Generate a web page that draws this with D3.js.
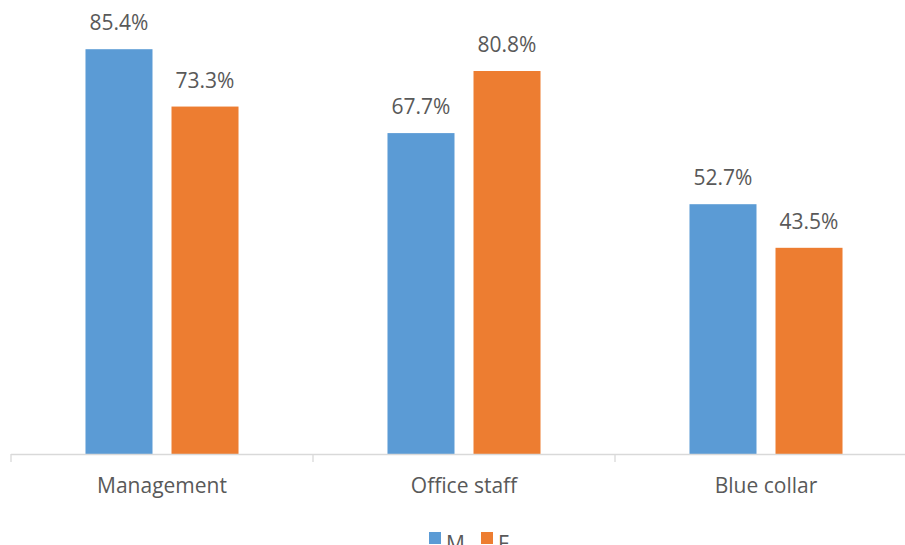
<!DOCTYPE html>
<html>
<head>
<meta charset="utf-8">
<script src="https://cdn.jsdelivr.net/npm/d3@7"></script>
<style>
  html, body { margin: 0; padding: 0; background: #fff; }
  svg { display: block; font-family: "Open Sans", "Noto Sans", sans-serif; }
</style>
</head>
<body>
<svg id="chart" width="905" height="545"></svg>
<script>
// Share by job category, split by sex
const categories = ["Management", "Office staff", "Blue collar"];
const seriesNames = ["M", "F"];
const valuesM = [85.4, 67.7, 52.7];
const valuesF = [73.3, 80.8, 43.5];
const seriesColors = ["#5B9BD5", "#ED7D31"];

const rows = categories.map((c, i) => ({ category: c, M: valuesM[i], F: valuesF[i] }));

const svg = d3.select("#chart");
const baseY = 454;
const fontSize = 21;

const x = d3.scaleBand().domain(categories).range([11, 917]).padding(0);
const xInner = d3.scaleBand().domain(seriesNames).range([0, x.bandwidth()])
  .paddingInner(0.221).paddingOuter(0.866);
const y = d3.scaleLinear().domain([0, 100]).range([baseY, -20]);
const color = d3.scaleOrdinal().domain(seriesNames).range(seriesColors);

// Category axis
const axis = d3.axisBottom(x).tickSize(0).tickPadding(0);
const gAxis = svg.append("g").attr("transform", `translate(0,${baseY})`).call(axis);
gAxis.select(".domain").remove();
gAxis.selectAll(".tick text")
  .attr("y", 39).attr("dy", null)
  .attr("fill", "#595959").attr("font-size", fontSize)
  .attr("font-family", "'Open Sans', sans-serif");

// Bars
const groups = svg.append("g").selectAll("g").data(rows).join("g")
  .attr("transform", d => `translate(${x(d.category)},0)`);

groups.selectAll("rect")
  .data(d => seriesNames.map(k => ({ key: k, value: d[k] })))
  .join("rect")
  .attr("x", d => xInner(d.key))
  .attr("width", xInner.bandwidth())
  .attr("y", d => y(d.value))
  .attr("height", d => y(0) - y(d.value))
  .attr("fill", d => color(d.key));

groups.selectAll("text.val")
  .data(d => seriesNames.map(k => ({ key: k, value: d[k] })))
  .join("text")
  .attr("class", "val")
  .attr("x", d => xInner(d.key) + xInner.bandwidth() / 2)
  .attr("y", d => y(d.value) - 19)
  .attr("text-anchor", "middle")
  .attr("fill", "#595959")
  .attr("font-size", fontSize)
  .text(d => d.value.toFixed(1) + "%");

// Baseline and category separators
const axisLine = svg.append("g").attr("stroke", "#D9D9D9").attr("stroke-width", 1.3);
axisLine.append("line")
  .attr("x1", x.range()[0]).attr("x2", x.range()[1])
  .attr("y1", baseY + 0.5).attr("y2", baseY + 0.5);
axisLine.selectAll("line.sep")
  .data(categories.concat([null]))
  .join("line")
  .attr("class", "sep")
  .attr("x1", (d, i) => x.range()[0] + i * x.step())
  .attr("x2", (d, i) => x.range()[0] + i * x.step())
  .attr("y1", baseY).attr("y2", baseY + 8);

// Legend
const legend = svg.append("g").attr("transform", "translate(429,532)");
const legendItems = legend.selectAll("g").data(seriesNames).join("g")
  .attr("transform", (d, i) => `translate(${i * 52},0)`);
legendItems.append("rect")
  .attr("width", 12).attr("height", 12)
  .attr("fill", d => color(d));
legendItems.append("text")
  .attr("x", 17).attr("y", 19)
  .attr("fill", "#595959").attr("font-size", fontSize)
  .text(d => d);
</script>
</body>
</html>
